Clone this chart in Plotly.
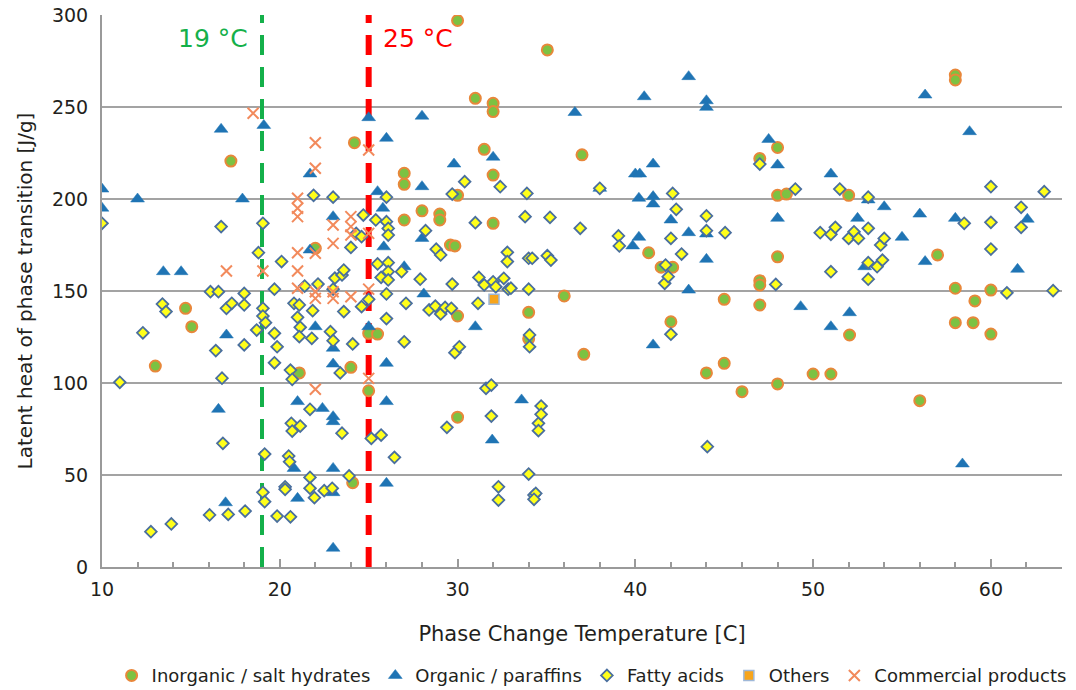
import plotly.graph_objects as go

# ---------------- data ----------------
inorg_x = [13.0, 14.7, 15.05, 17.25, 21.1, 22.0, 24.2, 24.0, 24.1, 25.0, 25.5, 25.0, 27.0, 27.0, 27.0,
           28.0, 29.0, 29.0, 29.6, 29.85, 30.0, 30.0, 30.0, 30.0, 31.0, 31.5, 32.0, 32.0, 32.0, 32.0,
           34.0, 34.0, 35.05, 36.0, 37.0, 37.1, 40.75, 41.45, 42.1, 42.0, 44.0, 45.0, 45.0, 46.0, 47.0,
           47.0, 47.0, 47.0, 48.0, 48.0, 48.5, 48.0, 48.0, 50.0, 51.0, 52.0, 52.05, 56.0, 57.0, 58.0,
           58.0, 58.0, 58.0, 59.0, 59.1, 60.0, 60.0]
inorg_y = [109.2, 140.6, 130.6, 220.6, 105.5, 173.2, 230.6, 108.5, 45.8, 127.0, 126.6, 95.8, 214.0, 208.0, 188.6,
           193.6, 191.8, 188.6, 175.0, 174.5, 297.0, 202.0, 136.4, 81.4, 254.7, 227.0, 252.0, 247.5, 213.0, 186.8,
           138.4, 124.0, 281.0, 147.3, 224.0, 115.6, 170.8, 162.9, 162.9, 133.3, 105.5, 145.5, 110.7, 95.3, 222.0,
           155.6, 153.3, 142.4, 228.0, 202.0, 202.7, 168.6, 99.5, 104.9, 104.9, 202.0, 126.1, 90.4, 169.6, 267.4,
           264.7, 151.5, 132.8, 132.8, 144.6, 150.5, 126.6]

org_x = [10.0, 10.0, 12.0, 13.45, 14.45, 16.55, 16.7, 16.95, 17.0, 17.9, 19.1, 20.8, 21.0, 21.0, 21.7,
         21.7, 22.0, 22.4, 23.0, 23.0, 23.0, 23.0, 23.0, 23.0, 23.0, 23.0, 25.0, 25.0, 25.5, 25.8,
         25.85, 26.0, 26.0, 26.0, 26.0, 27.0, 28.0, 28.0, 28.0, 28.1, 29.8, 31.0, 31.95, 32.0, 33.6,
         36.6, 38.0, 39.85, 40.2, 40.0, 40.25, 40.2, 40.5, 41.0, 41.0, 41.0, 41.0, 42.0, 43.0, 43.0,
         43.0, 44.0, 44.0, 44.0, 44.0, 47.5, 48.0, 48.0, 49.3, 51.0, 51.0, 52.05, 52.5, 52.9, 53.1,
         54.0, 55.0, 56.0, 56.3, 56.3, 58.0, 58.4, 58.8, 61.5, 62.05]
org_y = [205.4, 195.0, 200.0, 160.5, 160.5, 85.7, 237.9, 34.9, 126.1, 200.0, 240.0, 53.6, 89.9, 37.3, 213.6,
         172.3, 130.6, 86.2, 190.4, 118.9, 110.3, 81.7, 79.0, 53.6, 40.4, 10.2, 244.2, 130.6, 204.0, 195.0,
         174.0, 233.0, 110.7, 89.9, 45.5, 163.2, 245.0, 206.7, 178.6, 148.4, 219.0, 130.6, 69.0, 222.7, 90.8,
         247.0, 205.8, 174.5, 179.2, 213.6, 213.6, 200.4, 255.6, 219.0, 201.3, 197.3, 120.7, 188.6, 266.5, 181.7,
         150.5, 253.4, 249.8, 181.0, 167.2, 232.4, 218.5, 189.5, 141.5, 213.6, 130.6, 138.2, 189.5, 163.2, 199.5,
         195.8, 179.2, 191.8, 256.5, 166.0, 189.5, 56.0, 236.6, 161.8, 189.0]

fatty_x = [10.0, 11.0, 12.3, 12.75, 13.4, 13.6, 13.9, 16.05, 16.1, 16.4, 16.55, 16.7, 16.75, 16.8, 17.0,
           17.1, 17.3, 18.0, 18.0, 18.0, 18.05, 18.7, 18.8, 19.05, 19.05, 19.05, 19.2, 19.05, 19.15, 19.15,
           19.7, 19.7, 19.7, 19.85, 19.85, 20.1, 20.3, 20.3, 20.5, 20.55, 20.6, 20.6, 20.65, 20.7, 20.7,
           20.8, 21.0, 21.1, 21.15, 21.1, 21.15, 21.4, 21.7, 21.7, 21.7, 21.8, 21.85, 21.9, 21.95, 22.15,
           22.5, 22.85, 22.95, 23.0, 23.0, 23.0, 23.1, 23.4, 23.5, 23.5, 23.6, 23.6, 23.9, 24.0, 24.1,
           24.3, 24.6, 24.6, 24.7, 25.0, 25.15, 25.4, 25.5, 25.7, 25.7, 26.0, 26.0, 26.1, 26.1, 26.1,
           26.1, 26.1, 26.0, 26.0, 26.45, 26.85, 27.0, 27.1, 27.9, 28.2, 28.4, 28.75, 28.8, 29.05, 29.05,
           29.3, 29.4, 29.65, 29.7, 29.7, 29.85, 30.1, 30.4, 31.0, 31.15, 31.2, 31.5, 31.6, 31.9, 31.9,
           32.0, 32.15, 32.3, 32.3, 32.4, 32.6, 32.8, 32.8, 32.85, 33.0, 33.8, 33.9, 34.0, 34.0, 34.0,
           34.05, 34.05, 34.2, 34.3, 34.4, 34.3, 34.55, 34.55, 34.7, 34.7, 35.05, 35.2, 35.25, 36.9, 38.0,
           39.05, 39.1, 41.65, 41.7, 41.85, 42.0, 42.0, 42.1, 42.3, 42.6, 44.0, 44.0, 44.05, 45.05, 47.0,
           47.9, 49.0, 50.4, 51.0, 51.0, 51.25, 51.5, 52.0, 52.3, 52.55, 53.1, 53.1, 53.1, 53.1, 53.6,
           53.8, 53.9, 54.0, 58.5, 60.0, 60.0, 60.0, 60.9, 61.7, 61.7, 63.0, 63.5]
fatty_y = [186.8, 100.4, 127.3, 19.2, 142.9, 138.8, 23.4, 28.3, 149.6, 117.6, 149.6, 185.0, 102.6, 67.2, 140.6,
           28.6, 143.3, 148.7, 142.4, 120.7, 30.4, 128.8, 170.8, 186.8, 140.6, 136.4, 132.8, 40.6, 35.5, 61.4,
           151.0, 127.0, 111.0, 119.7, 27.7, 166.0, 43.6, 42.2, 60.3, 57.2, 107.0, 27.3, 78.1, 102.0, 73.9,
           143.3, 135.7, 142.4, 130.3, 125.2, 76.6, 152.7, 85.7, 48.7, 42.8, 124.3, 139.3, 202.0, 37.7, 153.8,
           41.5, 127.9, 42.8, 201.0, 151.0, 123.0, 157.0, 105.5, 158.7, 72.7, 161.4, 138.8, 49.5, 173.7, 121.2,
           181.3, 179.5, 141.5, 191.3, 145.5, 69.9, 188.6, 164.7, 157.4, 71.7, 201.0, 187.7, 184.0, 180.4, 165.4,
           160.5, 156.0, 148.4, 135.0, 59.6, 160.5, 122.4, 143.3, 156.4, 182.8, 139.7, 141.8, 172.7, 169.6, 137.5,
           141.1, 75.9, 140.6, 202.7, 153.8, 116.5, 119.7, 209.4, 187.1, 143.3, 157.4, 153.3, 97.1, 98.9, 82.0,
           155.0, 152.3, 43.6, 36.4, 206.7, 156.9, 171.0, 166.0, 151.0, 151.5, 190.4, 203.0, 167.8, 151.0, 50.5,
           126.1, 119.7, 167.8, 39.1, 40.0, 36.8, 78.1, 74.1, 87.5, 83.0, 169.2, 190.0, 166.8, 184.1, 205.8,
           179.9, 174.5, 154.2, 164.1, 157.8, 178.6, 126.5, 203.0, 194.4, 170.1, 190.8, 182.8, 65.4, 181.7, 219.0,
           153.6, 205.4, 181.7, 180.8, 160.5, 184.6, 205.4, 178.6, 182.2, 178.6, 201.0, 184.1, 165.4, 156.4, 163.2,
           175.0, 166.8, 178.6, 186.8, 206.7, 187.3, 172.8, 149.0, 195.5, 184.6, 204.0, 150.2]

others_x = [32.05]
others_y = [145.5]

comm_x = [18.5, 19.05, 17.0, 21.0, 21.0, 21.0, 21.0, 21.0, 21.0, 22.0, 22.0, 22.0, 22.0, 22.0, 22.0,
          23.0, 23.0, 23.0, 23.0, 24.0, 24.0, 24.0, 24.0, 25.0, 25.0, 25.0, 25.0]
comm_y = [246.6, 160.9, 160.9, 200.4, 195.0, 190.4, 170.8, 160.9, 151.5, 230.6, 216.7, 170.5, 149.6, 146.0, 96.6,
          185.9, 175.9, 149.6, 146.0, 190.4, 185.0, 180.4, 146.9, 226.6, 181.3, 151.0, 102.5]

limit_temps = [19, 25]
limit_labels = ["19 °C", "25 °C"]
limit_colors = ["#14b04a", "#ff0000"]
limit_widths = [4, 6]

x_ticks = [10, 20, 30, 40, 50, 60]
y_ticks = [0, 50, 100, 150, 200, 250, 300]

FONT = "DejaVu Sans"
TXT = "#231f20"

fig = go.Figure()

fig.add_trace(go.Scatter(
    x=inorg_x, y=inorg_y, mode="markers", name="Inorganic / salt hydrates",
    marker=dict(symbol="circle", size=11, color="#7cc242",
                line=dict(color="#e8873a", width=2)),
))
fig.add_trace(go.Scatter(
    x=org_x, y=org_y, mode="markers", name="Organic / paraffins",
    marker=dict(symbol="triangle-up", size=12, color="#1f74b4",
                line=dict(color="#1f74b4", width=0.5)),
))
fig.add_trace(go.Scatter(
    x=fatty_x, y=fatty_y, mode="markers", name="Fatty acids",
    marker=dict(symbol="diamond", size=9, color="#ffff1a",
                line=dict(color="#4a6f9e", width=1.8)),
))
fig.add_trace(go.Scatter(
    x=others_x, y=others_y, mode="markers", name="Others",
    marker=dict(symbol="square", size=10, color="#f7a51c",
                line=dict(color="#9fb8d8", width=1.5)),
))
fig.add_trace(go.Scatter(
    x=comm_x, y=comm_y, mode="markers", name="Commercial products",
    marker=dict(symbol="x-thin", size=11, color="#f28a5c",
                line=dict(color="#f28a5c", width=2)),
))

for t, lab, col, w in zip(limit_temps, limit_labels, limit_colors, limit_widths):
    fig.add_shape(type="line", x0=t, x1=t, y0=0, y1=300, xref="x", yref="y",
                  line=dict(color=col, width=w, dash="20px,12px"), layer="between")

fig.add_annotation(x=limit_temps[0], y=287, xref="x", yref="y", text=limit_labels[0],
                   showarrow=False, xanchor="right", xshift=-12,
                   font=dict(family=FONT, size=25, color=limit_colors[0]))
fig.add_annotation(x=limit_temps[1], y=287, xref="x", yref="y", text=limit_labels[1],
                   showarrow=False, xanchor="left", xshift=12,
                   font=dict(family=FONT, size=25, color=limit_colors[1]))

fig.update_layout(
    width=1076, height=690,
    margin=dict(l=102, r=14, t=15, b=123, autoexpand=False),
    paper_bgcolor="white", plot_bgcolor="white",
    font=dict(family=FONT, size=19, color=TXT),
    showlegend=True,
    legend=dict(orientation="h", x=0.51, xanchor="center", y=-0.197, yanchor="middle",
                font=dict(family=FONT, size=18, color=TXT), itemwidth=30,
                tracegroupgap=0, bgcolor="rgba(0,0,0,0)"),
    xaxis=dict(range=[10, 64], tickvals=x_ticks, ticktext=[str(v) for v in x_ticks],
               automargin=False,
               showgrid=False, zeroline=False, showline=True, linecolor="#9a9a9a", linewidth=2,
               ticks="inside", ticklen=8, tickcolor="#9a9a9a", tickwidth=1.5,
               ticklabelstandoff=4,
               minor=dict(dtick=2, ticks="inside", ticklen=5, tickcolor="#9a9a9a", tickwidth=1.5, showgrid=False),
               tickfont=dict(family=FONT, size=19, color=TXT),
               title=dict(text="Phase Change Temperature [C]", font=dict(family=FONT, size=21, color=TXT), standoff=28)),
    yaxis=dict(range=[0, 300], tickvals=y_ticks, showgrid=True, gridcolor="#a3a3a3", gridwidth=2,
               automargin=False,
               zeroline=False, showline=True, linecolor="#9a9a9a", linewidth=2, ticks="",
               ticklabelstandoff=8,
               tickfont=dict(family=FONT, size=19, color=TXT),
               title=dict(text="Latent heat of phase transition [J/g]", font=dict(family=FONT, size=20, color=TXT), standoff=14)),
)

fig.write_html("out.html")
